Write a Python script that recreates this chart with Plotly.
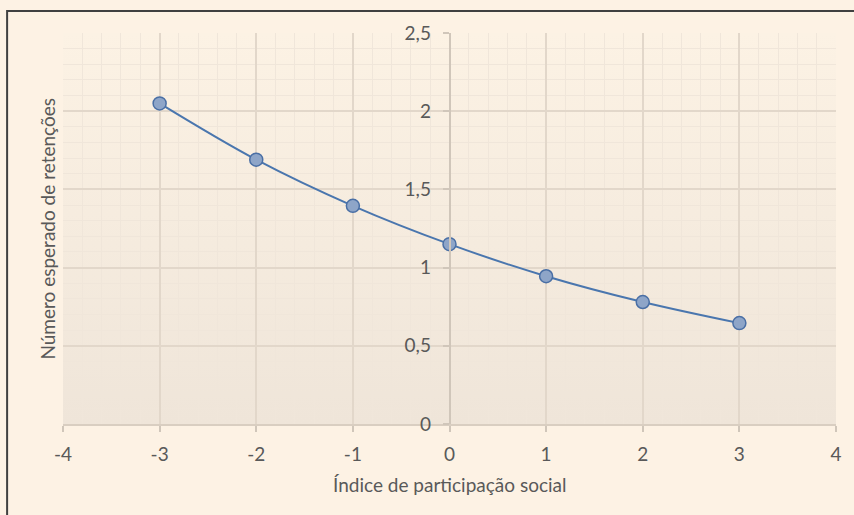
import base64
import plotly.graph_objects as go

x_vals = [-3, -2, -1, 0, 1, 2, 3]
y_vals = [2.05, 1.69, 1.395, 1.15, 0.945, 0.78, 0.645]

x_ticks = [-4, -3, -2, -1, 0, 1, 2, 3, 4]
x_ticktext = ["-4", "-3", "-2", "-1", "0", "1", "2", "3", "4"]
y_ticks = [0, 0.5, 1, 1.5, 2, 2.5]
y_ticktext = ["0", "0,5", "1", "1,5", "2", "2,5"]

x_title = "Índice de participação social"
y_title = "Número esperado de retenções"

FONT = "Lato, 'Open Sans', sans-serif"
TXT = "#595959"
FS = 19

svg = ('<svg xmlns="http://www.w3.org/2000/svg" width="100" height="100" preserveAspectRatio="none">'
       '<defs><linearGradient id="g" x1="0" y1="0" x2="0" y2="1">'
       '<stop offset="0" stop-color="#FCF2E4"/><stop offset="1" stop-color="#EFE5D9"/>'
       '</linearGradient></defs><rect width="100" height="100" fill="url(#g)"/></svg>')
src = "data:image/svg+xml;base64," + base64.b64encode(svg.encode()).decode()

fig = go.Figure()
fig.add_trace(go.Scatter(
    x=x_vals, y=y_vals, mode="lines+markers",
    line=dict(color="#4A76AE", width=2, shape="spline"),
    marker=dict(size=13, color="#8EA5C8", line=dict(color="#4A6FA5", width=1.5)),
    showlegend=False, hoverinfo="skip",
))

fig.update_layout(
    width=854, height=515,
    margin=dict(l=63, r=16, t=33, b=91),
    paper_bgcolor="#FDF2E4",
    plot_bgcolor="rgba(0,0,0,0)",
    font=dict(family=FONT, size=FS, color=TXT),
    images=[dict(source=src, xref="paper", yref="paper", x=0, y=1, sizex=1, sizey=1,
                 xanchor="left", yanchor="top", sizing="stretch", layer="below")],
    xaxis=dict(
        range=[-4, 4], tickvals=x_ticks, ticktext=x_ticktext,
        showgrid=True, gridcolor="#E2D7CA", gridwidth=1.5,
        minor=dict(dtick=0.2, tick0=0, showgrid=True, gridcolor="#F0E6DA", gridwidth=1),
        zeroline=False, showline=True, linecolor="#D9CEC1", linewidth=1.5,
        ticks="outside", ticklen=6, tickcolor="#D0C6BA", tickwidth=1.5,
        ticklabelstandoff=6, tickfont=dict(size=FS),
    ),
    yaxis=dict(
        range=[0, 2.5], tickvals=y_ticks, ticktext=y_ticktext,
        showgrid=True, gridcolor="#E2D7CA", gridwidth=1.5,
        minor=dict(dtick=0.1, tick0=0, showgrid=True, gridcolor="#F0E6DA", gridwidth=1),
        zeroline=False, showline=True, linecolor="#D0C6BA", linewidth=1.5,
        anchor="free", position=0.5,
        ticks="outside", ticklen=6, tickcolor="#D0C6BA", tickwidth=1.5,
        ticklabelstandoff=8, tickfont=dict(size=FS),
    ),
    shapes=[dict(type="rect", xref="paper", yref="paper",
                 x0=-0.0723, x1=1.2, y0=-0.6, y1=1.0563,
                 line=dict(color="#404040", width=2), fillcolor="rgba(0,0,0,0)", layer="below")],
    annotations=[
        dict(text=y_title, xref="paper", yref="paper", x=-0.0206, y=0.50,
             textangle=-90, showarrow=False, xanchor="center", yanchor="middle",
             font=dict(size=FS, color=TXT)),
        dict(text=x_title, xref="paper", yref="paper", x=0.5, y=-0.156,
             showarrow=False, xanchor="center", yanchor="middle",
             font=dict(size=FS, color=TXT)),
    ],
)

fig.write_html("out.html", config={"displayModeBar": False},
               post_script="document.body.style.margin='0';document.body.style.background='#FDF2E4';")
